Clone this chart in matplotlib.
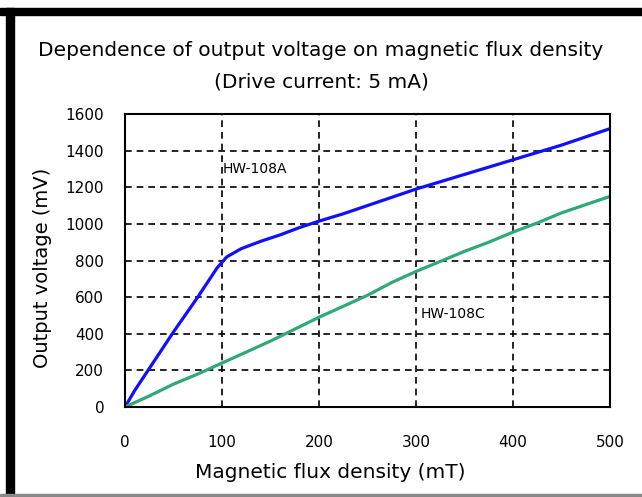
import numpy as np
import matplotlib
matplotlib.use("Agg")
import matplotlib.pyplot as plt
from matplotlib.patches import Rectangle

# flux density (mT) and output voltage (mV)
b_a = [0, 10, 25, 50, 75, 95, 105, 120, 140, 160, 180, 200, 225, 250, 275, 300, 325, 350, 375, 400, 425, 450, 475, 500]
v_a = [0, 90, 210, 410, 600, 760, 820, 865, 905, 940, 980, 1015, 1055, 1100, 1145, 1190, 1230, 1270, 1310, 1350, 1390, 1430, 1475, 1520]
b_c = [0, 25, 50, 75, 100, 125, 150, 175, 200, 225, 250, 275, 300, 325, 350, 375, 400, 425, 450, 475, 500]
v_c = [0, 60, 125, 180, 240, 300, 360, 425, 490, 550, 610, 680, 740, 795, 850, 900, 955, 1005, 1060, 1105, 1150]

xticks = [0, 100, 200, 300, 400, 500]
yticks = [0, 200, 400, 600, 800, 1000, 1200, 1400, 1600]

plt.rcParams['font.family'] = ['DejaVu Sans']

fig = plt.figure(figsize=(6.42, 4.97), dpi=100)
# frame around the picture
fig.patches.append(Rectangle((0, 1 - 15 / 497), 1, 7 / 497, transform=fig.transFigure, color='black'))
fig.patches.append(Rectangle((6 / 642, 0), 8 / 642, 1 - 8 / 497, transform=fig.transFigure, color='black'))
fig.patches.append(Rectangle((0, 1 / 497), 1, 2 / 497, transform=fig.transFigure, color='#888888'))

ax = fig.add_axes([125 / 642, 1 - 407 / 497, 485 / 642, 293 / 497])
ax.plot(b_a, v_a, color='#1010ff', lw=2.3)
ax.plot(b_c, v_c, color='#30a878', lw=2.3)

ax.set_xlim(0, 500)
ax.set_ylim(0, 1600)
ax.set_xticks(xticks)
ax.set_yticks(yticks)
ax.tick_params(length=0, labelsize=11)
ax.tick_params(axis='x', pad=20)
ax.tick_params(axis='y', pad=15)
ax.grid(True, color='black', linestyle=(0, (4, 3)), lw=1.2)
for s in ax.spines.values():
    s.set_linewidth(1.5)

ax.text(101, 1300, 'HW-108A', fontsize=10, va='center')
ax.text(305, 510, 'HW-108C', fontsize=10, va='center')

ax.set_xlabel('Magnetic flux density (mT)', fontsize=14.5)
ax.set_ylabel('Output voltage (mV)', fontsize=14)
ax.xaxis.set_label_coords(0.423, -0.222)
ax.yaxis.set_label_coords(-0.171, 0.474)
ax.xaxis.label.set_va('center')
ax.yaxis.label.set_va('center')
fig.text(0.5, 1 - 50 / 497, 'Dependence of output voltage on magnetic flux density', ha='center', va='center', fontsize=14.5)
fig.text(0.5, 1 - 82 / 497, '(Drive current: 5 mA)', ha='center', va='center', fontsize=14.5)

fig.savefig('out.png', dpi=100)
